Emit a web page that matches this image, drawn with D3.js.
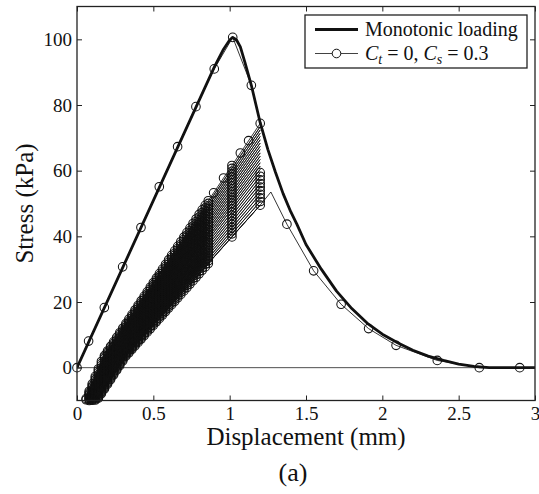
<!DOCTYPE html>
<html lang="en">
<head>
<meta charset="utf-8">
<script src="https://d3js.org/d3.v7.min.js"></script>
<style>
  body { margin: 0; background: #fff; }
  svg { display: block; }
</style>
</head>
<body>
<div id="container"></div>
<script>
// monotonic loading curve (thick line)
const monoDisp   = [0, 0.9, 0.96, 1.0, 1.02, 1.045, 1.07, 1.1, 1.142, 1.2, 1.25, 1.3, 1.35, 1.4, 1.44, 1.5, 1.6, 1.7, 1.8, 1.9, 2.0, 2.1, 2.2, 2.3, 2.4, 2.5, 2.6, 2.7, 3.0];
const monoStress = [0, 91.6, 97.0, 99.8, 100.6, 99.8, 97.7, 93.0, 86.0, 74.6, 66.5, 59.5, 53.0, 47.5, 43.7, 37.5, 30.0, 23.3, 18.0, 13.6, 10.2, 7.6, 5.3, 3.5, 2.2, 1.1, 0.4, 0, 0];

// cyclic run Ct = 0, Cs = 0.3 : first loading up to the reversal point
const loadDisp   = [0, 0.076, 0.179, 0.299, 0.419, 0.539, 0.659, 0.779, 0.899, 1.02, 1.142, 1.2];
const loadStress = [0, 8.1, 18.3, 30.7, 42.7, 55.1, 67.3, 79.5, 91.0, 100.6, 86.0, 74.4];

// cycles: stress at the upper reversal (1.2 mm), knee point, lower reversal
const cycleMaxDisp   = 1.2;
const cycleTopStress = [74.4, 73.4, 72.4, 71.4, 70.4, 69.4, 68.4, 67.4, 66.4, 65.4, 64.4, 63.4, 62.4, 61.4, 60.4, 59.4, 58.3, 57.2, 56.1, 55.0, 53.9, 52.8, 51.7, 50.6, 49.5];
const cycleKneeDisp  = [0.170, 0.176, 0.182, 0.189, 0.195, 0.201, 0.207, 0.214, 0.220, 0.226, 0.232, 0.239, 0.245, 0.251, 0.257, 0.264, 0.270, 0.276, 0.282, 0.289, 0.295, 0.301, 0.307, 0.314, 0.320];
const cycleKneeStress= [3.0, 3.0, 3.0, 3.0, 3.1, 3.1, 3.1, 3.1, 3.1, 3.2, 3.2, 3.2, 3.2, 3.2, 3.3, 3.3, 3.3, 3.3, 3.3, 3.4, 3.4, 3.4, 3.4, 3.5, 3.5];
const cycleMinDisp   = [0.055, 0.058, 0.061, 0.064, 0.068, 0.071, 0.074, 0.077, 0.080, 0.083, 0.086, 0.089, 0.093, 0.096, 0.099, 0.102, 0.105, 0.108, 0.111, 0.114, 0.118, 0.121, 0.124, 0.127, 0.130];
const cycleMinStress = -10;
// displacements where the cyclic markers sit (dense, they pile up into a black band)
const markerDisp = [0.06, 0.08, 0.10, 0.12, 0.14, 0.16, 0.18, 0.20, 0.22, 0.24, 0.26, 0.28, 0.30, 0.32, 0.34, 0.36, 0.38, 0.40, 0.42, 0.44, 0.46, 0.48, 0.50, 0.52, 0.54, 0.56, 0.58, 0.60, 0.62, 0.64, 0.66, 0.68, 0.70, 0.72, 0.74, 0.76, 0.78, 0.80, 0.82, 0.84, 0.86, 1.015];
const firstCycleMarkers = [0.895, 0.96, 1.07, 1.124];

// softening after the last cycle
const softDisp   = [1.27, 1.375, 1.55, 1.73, 1.91, 2.09, 2.36, 2.635, 2.9, 3.0];
const softStress = [53.5, 43.7, 29.5, 19.3, 11.9, 6.8, 2.2, 0, 0, 0];

const xTicks = [0, 0.5, 1, 1.5, 2, 2.5, 3];
const yTicks = [0, 20, 40, 60, 80, 100];

const width = 539, height = 494;
const mLeft = 77, mRight = 535, mTop = 6.5, mBottom = 400.5;
const serif = "'Liberation Serif', 'Times New Roman', 'DejaVu Serif', serif";

const x = d3.scaleLinear().domain([0, 3]).range([mLeft, mRight]);
const y = d3.scaleLinear().domain([-10, 110]).range([mBottom, mTop]);

const svg = d3.select("#container").append("svg")
    .attr("width", width).attr("height", height)
    .attr("font-family", serif);

svg.append("clipPath").attr("id", "plot")
  .append("rect").attr("x", mLeft).attr("y", mTop)
  .attr("width", mRight - mLeft).attr("height", mBottom - mTop);

const line = d3.line().x(d => x(d[0])).y(d => y(d[1]));

// build the cyclic path
const cyc = [];
const markers = [];
loadDisp.forEach((d, i) => { cyc.push([d, loadStress[i]]); markers.push([d, loadStress[i]]); });

function stressOnCycle(k, d) {
  const kx = cycleKneeDisp[k], ky = cycleKneeStress[k];
  if (d >= kx) return ky + (cycleTopStress[k] - ky) * (d - kx) / (cycleMaxDisp - kx);
  const bx = cycleMinDisp[k];
  return cycleMinStress + (ky - cycleMinStress) * (d - bx) / (kx - bx);
}

cycleTopStress.forEach((t, k) => {
  cyc.push([cycleMaxDisp, t]);
  cyc.push([cycleKneeDisp[k], cycleKneeStress[k]]);
  cyc.push([cycleMinDisp[k], cycleMinStress]);
  cyc.push([cycleKneeDisp[k], cycleKneeStress[k]]);
  if (t <= 60) markers.push([cycleMaxDisp, t]);
  markerDisp.forEach(d => {
    if (d >= cycleMinDisp[k]) markers.push([d, stressOnCycle(k, d)]);
  });
  if (k === 0) firstCycleMarkers.forEach(d => markers.push([d, stressOnCycle(0, d)]));
});
cyc.push([cycleMaxDisp, cycleTopStress[cycleTopStress.length - 1]]);
softDisp.forEach((d, i) => {
  cyc.push([d, softStress[i]]);
  if (i > 0 && d < 3) markers.push([d, softStress[i]]);
});

const plot = svg.append("g").attr("clip-path", "url(#plot)");

// zero line
plot.append("path")
  .attr("d", line([[0, 0], [3, 0]]))
  .attr("fill", "none").attr("stroke", "#222").attr("stroke-width", 0.8);

plot.append("path")
  .attr("d", line(cyc))
  .attr("fill", "none").attr("stroke", "#111").attr("stroke-width", 0.85);

plot.append("path")
  .attr("d", line(monoDisp.map((d, i) => [d, monoStress[i]])))
  .attr("fill", "none").attr("stroke", "#111").attr("stroke-width", 2.8)
  .attr("stroke-linejoin", "round");

svg.append("g").selectAll("circle").data(markers).join("circle")
  .attr("cx", d => x(d[0])).attr("cy", d => y(d[1])).attr("r", 4.3)
  .attr("fill", "none").attr("stroke", "#111").attr("stroke-width", 1.05);

// axes
const ax = svg.append("g");
const xb = ax.append("g").attr("transform", `translate(0,${mBottom})`)
  .call(d3.axisBottom(x).tickValues(xTicks).tickSize(-5).tickPadding(6).tickFormat(d3.format("~g")));
const xt = ax.append("g").attr("transform", `translate(0,${mTop})`)
  .call(d3.axisTop(x).tickValues(xTicks).tickSize(-5).tickFormat(""));
const yl = ax.append("g").attr("transform", `translate(${mLeft},0)`)
  .call(d3.axisLeft(y).tickValues(yTicks).tickSize(-5).tickPadding(5));
const yr = ax.append("g").attr("transform", `translate(${mRight},0)`)
  .call(d3.axisRight(y).tickValues(yTicks).tickSize(-5).tickFormat(""));
[xb, xt, yl, yr].forEach(g => {
  g.select(".domain").remove();
  g.attr("font-family", serif).attr("font-size", 19);
  g.selectAll("line").attr("stroke", "#222").attr("stroke-width", 1);
  g.selectAll("text").attr("fill", "#111");
});

svg.append("rect")
  .attr("x", mLeft).attr("y", mTop).attr("width", mRight - mLeft).attr("height", mBottom - mTop)
  .attr("fill", "none").attr("stroke", "#222").attr("stroke-width", 1.3);

// titles
svg.append("text").attr("x", (mLeft + mRight) / 2).attr("y", 445)
  .attr("text-anchor", "middle").attr("font-size", 25).attr("fill", "#111").text("Displacement (mm)");
svg.append("text").attr("transform", `translate(33,${(mTop + mBottom) / 2}) rotate(-90)`)
  .attr("text-anchor", "middle").attr("font-size", 25).attr("fill", "#111").text("Stress (kPa)");
svg.append("text").attr("x", 293).attr("y", 481)
  .attr("text-anchor", "middle").attr("font-size", 26).attr("fill", "#111").text("(a)");

// legend
const lg = svg.append("g").attr("fill", "#111");
lg.append("rect").attr("x", 305).attr("y", 15).attr("width", 222).attr("height", 53)
  .attr("fill", "#fff").attr("stroke", "#222").attr("stroke-width", 1.3);
lg.append("line").attr("x1", 315).attr("x2", 358).attr("y1", 29.5).attr("y2", 29.5)
  .attr("stroke", "#111").attr("stroke-width", 2.8);
lg.append("line").attr("x1", 315).attr("x2", 358).attr("y1", 53.5).attr("y2", 53.5)
  .attr("stroke", "#111").attr("stroke-width", 0.8);
lg.append("circle").attr("cx", 336.5).attr("cy", 53.5).attr("r", 4.3)
  .attr("fill", "#fff").attr("stroke", "#111").attr("stroke-width", 1);
lg.append("text").attr("x", 365).attr("y", 36).attr("font-size", 20).text("Monotonic loading");
const t2 = lg.append("text").attr("x", 365).attr("y", 60).attr("font-size", 20);
t2.append("tspan").attr("font-style", "italic").text("C");
t2.append("tspan").attr("font-style", "italic").attr("font-size", 14).attr("dy", 4).text("t");
t2.append("tspan").attr("dy", -4).text(" = 0, ");
t2.append("tspan").attr("font-style", "italic").text("C");
t2.append("tspan").attr("font-style", "italic").attr("font-size", 14).attr("dy", 4).text("s");
t2.append("tspan").attr("dy", -4).text(" = 0.3");
</script>
</body>
</html>
